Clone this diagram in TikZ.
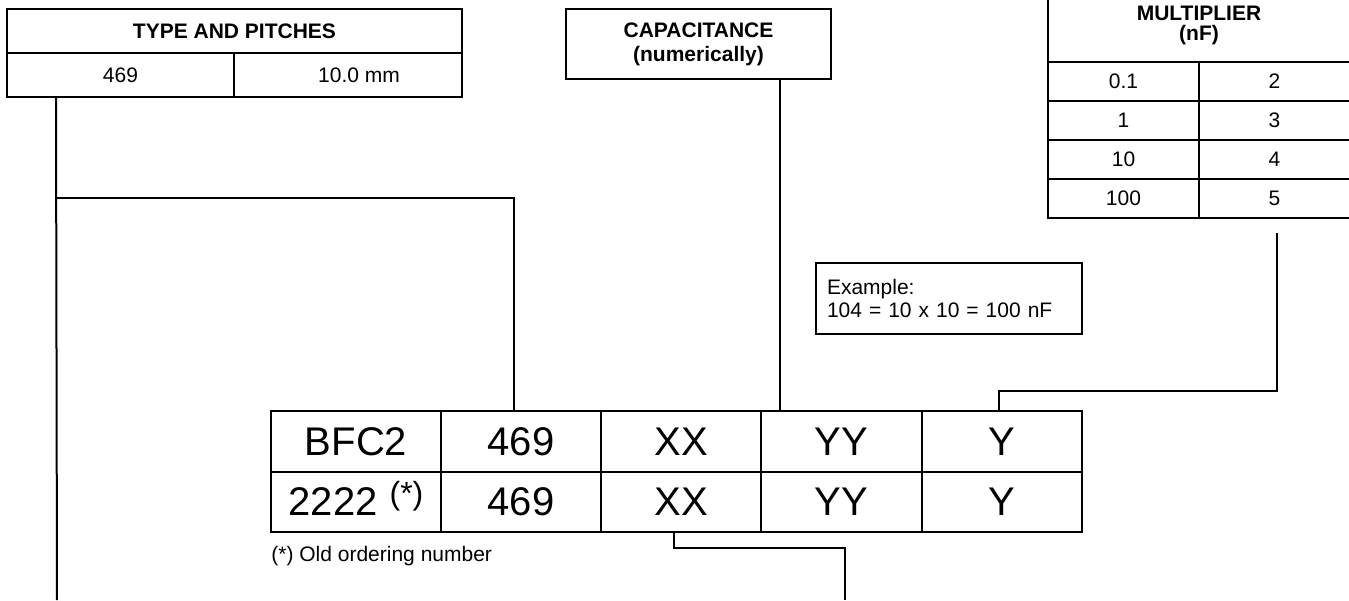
\documentclass[tikz,border=0pt]{standalone}
\usepackage{fontspec}
\setmainfont{Liberation Sans}
\usetikzlibrary{positioning}
\begin{document}
\begin{tikzpicture}[x={(0.5pt,0)},y={(0,-0.5pt)},
  cell/.style={draw, line width=1pt, inner sep=0pt, anchor=center},
  small/.style={font=\fontsize{10.5pt}{12pt}\selectfont},
  smallb/.style={font=\fontsize{10.5pt}{12pt}\selectfont\bfseries},
  big/.style={font=\fontsize{20pt}{24pt}\selectfont},
  wire/.style={line width=1pt},
  tcell/.style={cell, big, minimum height=30.25pt},
  mcell/.style={cell, small, minimum width=75.5pt, minimum height=19.5pt}]
\useasboundingbox (0,0) rectangle (1349,600);

% Type and pitches
\node[cell,smallb,minimum width=227.5pt,minimum height=22pt] (tph) at (234.5,31) {TYPE AND PITCHES};
\node[cell,small,minimum width=113.5pt,minimum height=22pt] (t469) at (120.5,75) {469};
\node[cell,small,minimum width=114pt,minimum height=22pt] (tmm) at (348,75) {\hspace*{11pt}10.0 mm};

% Capacitance
\node[cell,smallb,align=center,minimum width=132.5pt,minimum height=35pt] (cap) at (698.5,44) {CAPACITANCE\\(numerically)};

% Multiplier
\node[cell,align=center,minimum width=151pt,minimum height=37pt,
      font=\fontsize{10.5pt}{10pt}\selectfont\bfseries] (mh) at (1199,25) {MULTIPLIER\\(nF)};
\node[mcell] (m11) at (1123.5,81.5) {0.1};
\node[mcell] (m12) at (1274.5,81.5) {2};
\node[mcell] (m21) at (1123.5,120.5) {1};
\node[mcell] (m22) at (1274.5,120.5) {3};
\node[mcell] (m31) at (1123.5,159.5) {10};
\node[mcell] (m32) at (1274.5,159.5) {4};
\node[mcell] (m41) at (1123.5,198) {100};
\node[mcell] (m42) at (1274.5,198) {5};

% Example
\node[cell,align=left,text width=122pt,inner xsep=5.5pt,minimum width=133pt,minimum height=35.5pt,
      font=\fontsize{10.5pt}{11.5pt}\selectfont] (ex) at (949,298.5) {Example:\\104 = 10 x 10 = 100 nF};

% Main table
\node[tcell,minimum width=85pt] (c11) at (356,441.25) {BFC2};
\node[tcell,minimum width=80pt] (c12) at (521,441.25) {469};
\node[tcell,minimum width=80pt] (c13) at (681,441.25) {XX};
\node[tcell,minimum width=80.5pt] (c14) at (841.5,441.25) {YY};
\node[tcell,minimum width=80pt] (c15) at (1002,441.25) {Y};
\node[tcell,minimum width=85pt] (c21) at (356,501.75) {2222\hspace{6pt}\raisebox{5.5pt}{\smash{\fontsize{16pt}{16pt}\selectfont(*)}}};
\node[tcell,minimum width=80pt] (c22) at (521,501.75) {469};
\node[tcell,minimum width=80pt] (c23) at (681,501.75) {XX};
\node[tcell,minimum width=80.5pt] (c24) at (841.5,501.75) {YY};
\node[tcell,minimum width=80pt] (c25) at (1002,501.75) {Y};

\node[small,anchor=west,inner sep=0pt] (note) at (271,556) {(*) Old ordering number};

% Connectors
\coordinate (tlend) at (57,600);
\coordinate (j1) at (57,198);
\draw[wire] ([xshift=25pt]t469.south west) -- (tlend);
\draw[wire] (j1) -| ([xshift=-3.5pt]c12.north);
\draw[wire] ([xshift=40.5pt]cap.south) -- ([xshift=40.5pt]cap.south |- c14.north);
\coordinate (mtop) at (1277,233);
\coordinate (mbend) at (1277,391);
\draw[wire] (mtop) -- (mbend) -| ([xshift=-1.5pt]c15.north);
\coordinate (xxend) at (845,600);
\draw[wire] ([xshift=-3.5pt]c23.south) -- ++(0,15) -| (xxend);
\end{tikzpicture}
\end{document}
